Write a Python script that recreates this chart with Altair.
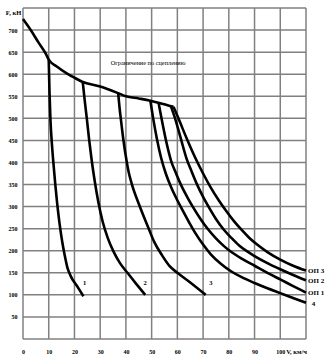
import altair as alt
import pandas as pd

# Adhesion limit curve
adh_v = [0, 3, 6, 9, 10, 13, 17, 20, 23, 30, 37, 40, 45, 49.5, 53, 58.5]
adh_f = [725, 700, 672, 645, 633, 618, 602, 592, 583, 572, 557, 550, 545, 540, 535, 526]

c1_v = [10, 10.3, 10.7, 11.2, 11.8, 12.5, 13.3, 14.2, 15.2, 16.2, 17.2, 18.5, 21, 23.5]
c1_f = [633, 560, 493, 445, 400, 353, 306, 262, 222, 190, 163, 143, 120, 97]

c2_v = [23.2, 24, 24.8, 25.7, 26.7, 27.9, 29.3, 31, 33, 35.2, 37.7, 40.6, 44, 47.5]
c2_f = [583, 540, 500, 452, 405, 357, 310, 265, 228, 198, 172, 150, 125, 100]

c3_v = [37, 37.6, 38, 39, 40.3, 41, 42.3, 45.3, 48.8, 51, 54, 57, 60, 65, 71]
c3_f = [557, 520, 500, 452, 402, 380, 351, 302, 251, 220, 190, 165, 150, 128, 100]

c4_v = [49.5, 50.6, 52, 53.7, 55.5, 57.5, 59.5, 62, 64.5, 67, 70, 73, 77, 81, 85, 90, 95, 100, 105, 110]
c4_f = [540, 500, 455, 410, 375, 345, 320, 292, 265, 240, 214, 192, 170, 153, 140, 127, 115, 104, 93, 82]

op1_v = [52.7, 54, 55.5, 57.5, 59.5, 61.5, 64, 66.5, 69, 72, 75, 78, 81, 85, 90, 95, 100, 105, 110]
op1_f = [535, 495, 452, 405, 375, 348, 320, 295, 272, 248, 228, 211, 197, 182, 166, 150, 135, 120, 105]

op2_v = [57.5, 59.1, 61.3, 63.5, 65.5, 67.5, 70, 72.5, 75, 78, 81, 84, 87, 90, 95, 100, 105, 110]
op2_f = [527, 500, 455, 410, 380, 352, 322, 296, 272, 248, 229, 212, 199, 188, 172, 158, 145, 133]

op3_v = [58.5, 60.4, 63.8, 67, 70, 73, 76, 79, 82, 85, 88, 91, 95, 100, 105, 110]
op3_f = [526, 500, 452, 410, 375, 343, 315, 290, 267, 247, 229, 214, 197, 180, 166, 155]

series = {
    "adh": (adh_v, adh_f), "1": (c1_v, c1_f), "2": (c2_v, c2_f), "3": (c3_v, c3_f),
    "4": (c4_v, c4_f), "ОП 1": (op1_v, op1_f), "ОП 2": (op2_v, op2_f), "ОП 3": (op3_v, op3_f),
}
rows = []
for name, (vs, fs) in series.items():
    for i, (v, f) in enumerate(zip(vs, fs)):
        rows.append({"s": name, "i": i, "v": v, "f": f})
df = pd.DataFrame(rows)

num_text = ["1", "2", "3"]
num_v = [24, 47.5, 73]
num_f = [128, 128, 128]

end_text = ["ОП 3", "ОП 2", "ОП 1", "4"]
end_v = [110, 110, 110, 111.5]
end_f = [154, 132, 105, 80]

note_text = ["Ограничение по сцеплению"]
note_v = [48.6]
note_f = [625]

x_ticks = list(range(0, 111, 10))
y_ticks = list(range(0, 751, 50))

# grid segments built from the tick lists (two end points per line)
grows = []
for t in x_ticks:
    grows.append({"g": f"x{t}", "i": 0, "v": t, "f": y_ticks[0]})
    grows.append({"g": f"x{t}", "i": 1, "v": t, "f": y_ticks[-1]})
for t in y_ticks:
    grows.append({"g": f"y{t}", "i": 0, "v": x_ticks[0], "f": t})
    grows.append({"g": f"y{t}", "i": 1, "v": x_ticks[-1], "f": t})
gdf = pd.DataFrame(grows)

FONT = "Liberation Serif"
GRID = "#808080"

xs = alt.X("v:Q", scale=alt.Scale(domain=[0, 110], nice=False),
           axis=alt.Axis(values=x_ticks, grid=False, title="V, км/ч", titleX=273, titleY=12,
                         titleAlign="center", titleBaseline="middle", titleFont=FONT,
                         titleFontSize=6.5, titleFontWeight="bold", labelFont=FONT,
                         labelFontSize=6, labelFontWeight="bold", labelPadding=9,
                         labelOverlap=False, labelFlush=False, ticks=False,
                         domain=False, labelColor="black",
                         labelExpr="datum.value == 110 ? '' : datum.label"))
ys = alt.Y("f:Q", scale=alt.Scale(domain=[0, 750], nice=False),
           axis=alt.Axis(values=y_ticks, grid=False, title="F, кН", titleAngle=0,
                         titleX=-10, titleY=4, titleAlign="center", titleBaseline="middle",
                         titleFont=FONT, titleFontSize=6.5, titleFontWeight="bold",
                         labelFont=FONT, labelFontSize=6, labelFontWeight="bold",
                         labelPadding=6, labelOverlap=False, labelFlush=False, ticks=False,
                         domain=False, labelColor="black",
                         labelExpr="(datum.value == 0 || datum.value == 750) ? '' : datum.label"))

grid = alt.Chart(gdf).mark_line(color=GRID, strokeWidth=1.5, interpolate="linear").encode(
    x=xs, y=ys, detail="g:N", order="i:Q")

lines = alt.Chart(df).mark_line(color="black", strokeWidth=2.6, interpolate="monotone",
                                strokeJoin="round").encode(
    x=xs, y=ys, detail="s:N", order="i:Q")

nums = alt.Chart(pd.DataFrame({"t": num_text, "v": num_v, "f": num_f})).mark_text(
    font=FONT, fontSize=6.5, fontWeight="bold", align="center", baseline="middle", color="black"
).encode(x=xs, y=ys, text="t:N")

ends = alt.Chart(pd.DataFrame({"t": end_text, "v": end_v, "f": end_f})).mark_text(
    font=FONT, fontSize=7, fontWeight="bold", align="left", baseline="middle", dx=2,
    color="black", clip=False
).encode(x=xs, y=ys, text="t:N")

note = alt.Chart(pd.DataFrame({"t": note_text, "v": note_v, "f": note_f})).mark_text(
    font=FONT, fontSize=6.3, align="center", baseline="middle", color="black"
).encode(x=xs, y=ys, text="t:N")

chart = alt.layer(grid, lines, nums, ends, note).properties(
    width=283, height=331,
    padding={"left": 5, "top": 5, "right": 0, "bottom": 0},
).configure_view(strokeWidth=0)

chart.save("out.html", embed_options={"renderer": "svg", "actions": False})
